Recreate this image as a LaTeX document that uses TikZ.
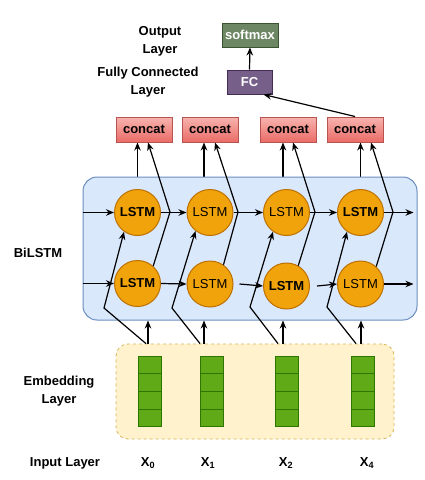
\documentclass[tikz,border=0pt]{standalone}
\usepackage{fontspec}
\setmainfont{Liberation Sans}
\usetikzlibrary{arrows.meta,calc}
\definecolor{lstmfill}{HTML}{F0A30A}
\definecolor{lstmdraw}{HTML}{BD7000}
\definecolor{cctop}{HTML}{F8B4B0}
\definecolor{ccbot}{HTML}{EA6B66}
\definecolor{ccdraw}{HTML}{B85450}
\definecolor{smfill}{HTML}{6D8764}
\definecolor{smdraw}{HTML}{3A5431}
\definecolor{fcfill}{HTML}{76608A}
\definecolor{fcdraw}{HTML}{432D57}
\definecolor{bifill}{HTML}{DAE8FC}
\definecolor{bidraw}{HTML}{6C8EBF}
\definecolor{emfill}{HTML}{FFF2CC}
\definecolor{emdraw}{HTML}{D6B656}
\definecolor{cellfill}{HTML}{60A917}
\definecolor{celldraw}{HTML}{2D7600}
\pgfdeclarelayer{bgzero}
\pgfdeclarelayer{bgone}
\pgfsetlayers{bgzero,bgone,main}
\begin{document}
\begin{tikzpicture}[x=1pt,y=-1pt,
  font=\fontsize{13}{18}\selectfont\bfseries,
  >={Stealth[length=8pt,width=6.5pt]},
  wire/.style={draw=black,line width=1.2pt},
  arr/.style={wire,->},
  lstm/.style={circle,minimum size=46pt,inner sep=0pt,fill=lstmfill,draw=lstmdraw,line width=1pt},
  lstmn/.style={lstm,font=\fontsize{13}{15}\selectfont\mdseries},
  concatbox/.style={rectangle,minimum width=56pt,minimum height=25pt,inner sep=0pt,
    top color=cctop,bottom color=ccbot,draw=ccdraw,line width=1pt},
  cellbox/.style={rectangle,minimum width=23pt,minimum height=17.75pt,inner sep=0pt,
    fill=cellfill,draw=celldraw,line width=1pt},
  lbl/.style={align=center,inner sep=0pt}
]
\useasboundingbox (0,0) rectangle (425,480);
\begin{pgfonlayer}{bgzero}
\fill[white] (0,0) rectangle (425,480);
\end{pgfonlayer}

% containers
\begin{pgfonlayer}{bgone}
\node[rectangle,minimum width=334pt,minimum height=143pt,inner sep=0pt,rounded corners=14pt,
  fill=bifill,draw=bidraw,line width=1pt] (bil) at (250,248.5) {};
\end{pgfonlayer}
\node[rectangle,minimum width=278pt,minimum height=95pt,inner sep=0pt,rounded corners=12pt,
  fill=emfill,draw=emdraw,dashed,line width=0.8pt] (emb) at (255,391.5) {};

% top nodes
\node[rectangle,minimum width=56pt,minimum height=24pt,inner sep=0pt,fill=smfill,draw=smdraw,
  line width=1pt,text=white] (sm) at (250,35) {softmax};
\node[rectangle,minimum width=45pt,minimum height=24pt,inner sep=0pt,fill=fcfill,draw=fcdraw,
  line width=1pt,text=white] (fc) at (249.5,82) {FC};
\node[concatbox] (c1) at (144,129.5) {concat};
\node[concatbox] (c2) at (210,129.5) {concat};
\node[concatbox] (c3) at (288,129.5) {concat};
\node[concatbox] (c4) at (355,129.5) {concat};

% LSTM cells
\node[lstm]  (t1) at (137.5,212.5) {LSTM};
\node[lstmn] (t2) at (210,212.5) {LSTM};
\node[lstmn] (t3) at (286.5,212.5) {LSTM};
\node[lstm]  (t4) at (360.5,212.5) {LSTM};
\node[lstm]  (b1) at (137.5,283.5) {LSTM};
\node[lstmn] (b2) at (210,284) {LSTM};
\node[lstm]  (b3) at (286.5,286) {LSTM};
\node[lstmn] (b4) at (360.5,284) {LSTM};

% embedding cells
\foreach \i/\x in {1/149.5,2/211.5,3/287,4/363}{
  \foreach \k/\y in {1/364.9,2/382.6,3/400.4,4/418.1}{
    \node[cellbox] (e\i\k) at (\x,\y) {};
  }
}

% labels
\node[lbl] (lout) at (160,41) {Output\\Layer};
\node[lbl] (lfc) at (148,82) {Fully Connected\\Layer};
\node[lbl] (lbi) at (38,253) {BiLSTM};
\node[lbl] (lemb) at (59,391) {Embedding\\Layer};
\node[lbl] (lin) at (65,463) {Input Layer};
\node[lbl] (x0) at (148,463) {X\textsubscript{0}};
\node[lbl] (x1) at (208,463) {X\textsubscript{1}};
\node[lbl] (x2) at (286,463) {X\textsubscript{2}};
\node[lbl] (x4) at (367,463) {X\textsubscript{4}};

% output connectors
\draw[arr] (fc.north) -- (sm.south);
\draw[arr] (c4.north) -- ([xshift=-9pt]fc.south east);

% top LSTM to concat (behind the box)
\begin{pgfonlayer}{bgzero}
\draw[arr] (t1.north) -- (t1.north |- c1.south);
\draw[arr] ([xshift=-6pt]t2.north) -- ([xshift=-6pt]t2.north |- c2.south);
\draw[arr] ([xshift=-3.5pt]t3.north) -- ([xshift=-3.5pt]t3.north |- c3.south);
\draw[arr] (t4.north) -- (t4.north |- c4.south);
\end{pgfonlayer}

% bottom LSTM to concat
\coordinate (k1) at (170,212);
\coordinate (k2) at (238,212);
\coordinate (k3) at (315,212);
\coordinate (k4) at (393,212);
\draw[arr] (b1.48) -- (k1) -- (148,0 |- c1.south);
\draw[arr] (b2.55) -- (k2) -- (215,0 |- c2.south);
\draw[arr] (b3.60) -- (k3) -- (293,0 |- c3.south);
\draw[arr] (b4.48) -- (k4) -- (371,0 |- c4.south);

% horizontal chains
\draw[arr] (bil.west |- t1) -- (t1.west);
\draw[arr] (t1.east) -- (t2.west);
\draw[arr] (t2.east) -- (t3.west);
\draw[arr] (t3.east) -- (t4.west);
\draw[arr] (t4.east) -- ([xshift=-4pt]bil.east |- t4);
\draw[arr] (bil.west |- b1) -- (b1.west);
\draw[arr] (b1.east) -- (b2.west);
\draw[arr] ([xshift=6pt]b2.east) -- (b3.west);
\draw[arr] ([xshift=7pt]b3.east) -- (b4.west);
\draw[arr] (b4.east) -- ([xshift=-4pt]bil.east |- b4);

% embedding to BiLSTM
\coordinate (m1) at (104,308);
\coordinate (m2) at (172,308);
\coordinate (m3) at (250,307);
\coordinate (m4) at (327,307);
\draw[arr] (146,0 |- emb.north) -- (m1) -- (t1.235);
\draw[arr] (200,0 |- emb.north) -- (m2) -- (t2.232);
\draw[arr] (278,0 |- emb.north) -- (m3) -- (t3.235);
\draw[arr] (356,0 |- emb.north) -- (m4) -- (t4.235);
\draw[arr] (148,0 |- emb.north) -- (148,0 |- bil.south);
\draw[arr] (204,0 |- emb.north) -- (204,0 |- bil.south);
\draw[arr] (283,0 |- emb.north) -- (283,0 |- bil.south);
\draw[arr] (361,0 |- emb.north) -- (361,0 |- bil.south);
\end{tikzpicture}
\end{document}
